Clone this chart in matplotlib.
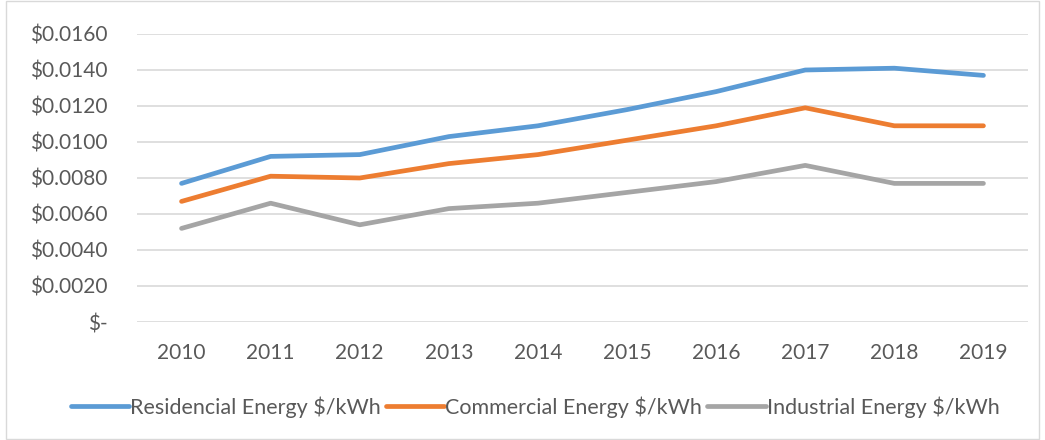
import matplotlib.pyplot as plt
from matplotlib.patches import Rectangle
from matplotlib.ticker import FuncFormatter

plt.rcParams['font.family'] = ['Lato', 'DejaVu Sans']

years = ['2010', '2011', '2012', '2013', '2014', '2015', '2016', '2017', '2018', '2019']
residential = [0.0077, 0.0092, 0.0093, 0.0103, 0.0109, 0.0118, 0.0128, 0.0140, 0.0141, 0.0137]
commercial = [0.0067, 0.0081, 0.0080, 0.0088, 0.0093, 0.0101, 0.0109, 0.0119, 0.0109, 0.0109]
industrial = [0.0052, 0.0066, 0.0054, 0.0063, 0.0066, 0.0072, 0.0078, 0.0087, 0.0077, 0.0077]

series = [
    ("Residencial Energy $/kWh", residential, "#5B9BD5"),
    ("Commercial Energy $/kWh", commercial, "#ED7D31"),
    ("Industrial Energy $/kWh", industrial, "#A5A5A5"),
]

fig = plt.figure(figsize=(10.45, 4.4), dpi=100)
ax = fig.add_axes([137 / 1045, 1 - 322 / 440, (1028 - 137) / 1045, (322 - 34) / 440])

x = list(range(len(years)))
for label, vals, color in series:
    ax.plot(x, vals, color=color, lw=3.4, solid_capstyle='round', label=label)

ax.set_xlim(-0.5, len(years) - 0.5)
ax.set_ylim(0, 0.016)
ax.set_yticks([i * 0.002 for i in range(9)])


def fmt(v, pos):
    if abs(v) < 1e-12:
        return "$-"
    return f"${v:.4f}"


ax.yaxis.set_major_formatter(FuncFormatter(fmt))
ax.set_xticks(x)
ax.set_xticklabels(years)
ax.grid(axis='y', color='#D9D9D9', lw=1.2)
ax.set_axisbelow(True)
for s in ax.spines.values():
    s.set_visible(False)
ax.tick_params(length=0, labelsize=15, colors='#595959')
ax.tick_params(axis='x', pad=15)
ax.tick_params(axis='y', pad=21)
for t in ax.get_yticklabels():
    t.set_horizontalalignment('right')

leg = fig.legend(loc='center', bbox_to_anchor=(0.512, 1 - 407 / 440), ncol=3, frameon=False,
                 fontsize=15.5, handlelength=2.7, handletextpad=0.05, columnspacing=0.25)
for t in leg.get_texts():
    t.set_color('#595959')

fig.patches.append(Rectangle((6 / 1045, 0.002), 1 - 12 / 1045, 0.996, transform=fig.transFigure,
                             fill=False, edgecolor='#D9D9D9', lw=1))

fig.savefig("out.png", dpi=100)
